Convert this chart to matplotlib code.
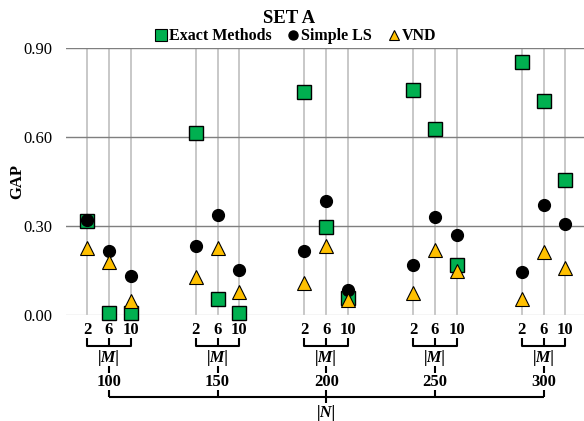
import numpy as np
import matplotlib.pyplot as plt
from matplotlib.lines import Line2D

plt.rcParams['font.family'] = ['Liberation Serif', 'DejaVu Serif']

# data: |N| groups, |M| values inside each group
n_labels = ['100', '150', '200', '250', '300']
m_labels = ['2', '6', '10']
exact = [0.315, 0.005, 0.005,
         0.614, 0.054, 0.005,
         0.750, 0.295, 0.057,
         0.758, 0.627, 0.169,
         0.853, 0.721, 0.455]
simple_ls = [0.320, 0.216, 0.130,
             0.233, 0.337, 0.152,
             0.216, 0.384, 0.084,
             0.169, 0.330, 0.270,
             0.145, 0.370, 0.307]
vnd = [0.226, 0.179, 0.048,
       0.128, 0.226, 0.078,
       0.108, 0.233, 0.050,
       0.074, 0.219, 0.148,
       0.054, 0.212, 0.158]

green = '#00B050'
orange = '#FFC000'

# x positions: 3 per group, gap of 2 between groups
pos = np.array([g * 5 + j for g in range(len(n_labels)) for j in range(len(m_labels))])

fig = plt.figure(figsize=(5.84, 4.21), dpi=100)
ax = fig.add_axes([0.113, 0.252, 0.887, 0.634])

ax.vlines(pos, 0, 0.9, color='#c4c4c4', lw=1.3, zorder=1)
for y in [0.3, 0.6, 0.9]:
    ax.axhline(y, color='#7f7f7f', lw=1.0, zorder=1)
ax.axhline(0, color='#d0d0d0', lw=1.0, zorder=1)

ax.plot(pos, exact, 's', ms=9.5, mfc=green, mec='black', mew=1.0, zorder=3, clip_on=False)
ax.plot(pos, simple_ls, 'o', ms=8.5, mfc='black', mec='black', zorder=4, clip_on=False)
ax.plot(pos, vnd, '^', ms=10, mfc=orange, mec='black', mew=0.8, zorder=5, clip_on=False)

ax.set_xlim(-0.97, 22.86)
ax.set_ylim(0, 0.9)
ax.set_yticks([0, 0.3, 0.6, 0.9])
ax.set_yticklabels(['0.00', '0.30', '0.60', '0.90'], fontsize=12)
ax.set_xticks(pos)
ax.set_xticklabels(m_labels * len(n_labels), fontsize=12, fontweight='bold')
ax.tick_params(axis='y', length=0, pad=10)
ax.tick_params(axis='x', length=0, pad=5)
for s in ax.spines.values():
    s.set_visible(False)

ax.set_ylabel('GAP', fontsize=12, fontweight='bold')
ax.yaxis.set_label_coords(-0.078, 0.5)

# bracket annotations under the axis
tr = ax.get_xaxis_transform()
kw = dict(color='black', lw=1.5, transform=tr, clip_on=False, solid_capstyle='butt')
centers = []
for g, n in enumerate(n_labels):
    x0, xm, x1 = g * 5, g * 5 + 1, g * 5 + 2
    centers.append(xm)
    ax.plot([x0, x0, x1, x1], [-0.086, -0.116, -0.116, -0.086], **kw)
    ax.plot([xm, xm], [-0.116, -0.086], **kw)
    ax.text(xm, -0.161, '|M|', transform=tr, ha='center', va='center',
            fontsize=12, fontweight='bold', fontstyle='italic')
    ax.plot([xm, xm], [-0.191, -0.217], **kw)
    ax.text(xm, -0.251, n, transform=tr, ha='center', va='center',
            fontsize=12, fontweight='bold')
    ax.plot([xm, xm], [-0.281, -0.307], **kw)

ax.plot([centers[0], centers[-1]], [-0.307, -0.307], **kw)
mid = centers[len(centers) // 2]
ax.plot([mid, mid], [-0.307, -0.33], **kw)
ax.text(mid, -0.367, '|N|', transform=tr, ha='center', va='center',
        fontsize=12, fontweight='bold', fontstyle='italic')

fig.text(0.495, 0.955, 'SET A', ha='center', va='center', fontsize=13.5, fontweight='bold')
handles = [
    Line2D([], [], ls='none', marker='s', ms=8, mfc=green, mec='black', mew=0.8),
    Line2D([], [], ls='none', marker='o', ms=6.5, mfc='black', mec='black'),
    Line2D([], [], ls='none', marker='^', ms=7.5, mfc=orange, mec='black', mew=0.8),
]
fig.legend(handles, ['Exact Methods', 'Simple LS', 'VND'], loc='center',
           bbox_to_anchor=(0.505, 0.914), ncol=3, frameon=False,
           handletextpad=0.05, columnspacing=0.9, handlelength=0.9,
           prop={'size': 11.5, 'weight': 'bold'})

fig.savefig('out.png', dpi=100)
